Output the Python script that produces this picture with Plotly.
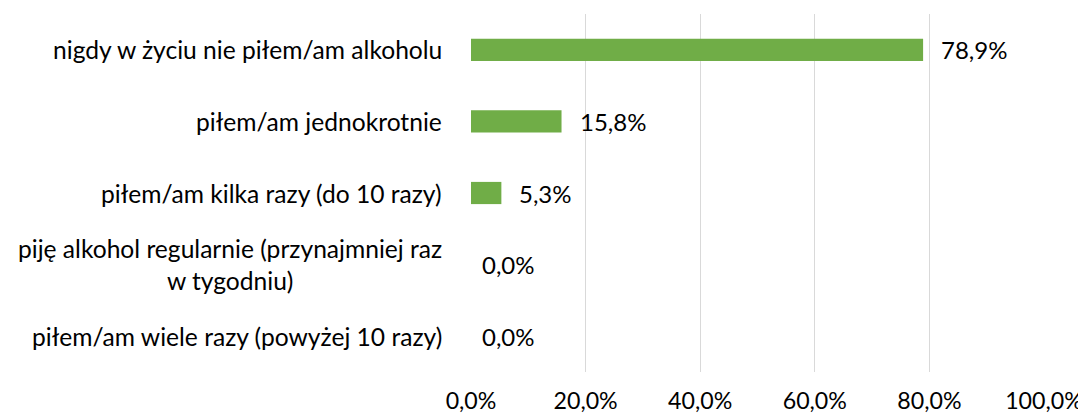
import plotly.graph_objects as go

categories = [
    "nigdy w życiu nie piłem/am alkoholu",
    "piłem/am jednokrotnie",
    "piłem/am kilka razy (do 10 razy)",
    "piję alkohol regularnie (przynajmniej raz<br>w tygodniu)",
    "piłem/am wiele razy (powyżej 10 razy)",
]
values = [78.9, 15.8, 5.3, 0.0, 0.0]
x_ticks = [0, 20, 40, 60, 80, 100]
x_tick_labels = ["0,0%", "20,0%", "40,0%", "60,0%", "80,0%", "100,0%"]

FONT = "Lato, Carlito, 'Open Sans', sans-serif"
FS = 24
TXT = "#000000"

fig = go.Figure(
    go.Bar(
        x=values,
        y=categories,
        orientation="h",
        marker=dict(color="#70AD47", line=dict(width=0)),
        hoverinfo="x+y",
    )
)

annotations = [
    dict(
        x=0, xref="paper", xanchor="right", xshift=-27,
        y=c, yref="y", yanchor="middle",
        text=c, showarrow=False, align="center",
        font=dict(family=FONT, size=24.6, color=TXT),
    )
    for c in categories
]
annotations += [
    dict(
        x=v, xref="x", xanchor="left", xshift=16 if v > 0 else 9,
        y=c, yref="y", yanchor="middle",
        text=f"{v:.1f}%".replace(".", ","), showarrow=False,
        font=dict(family=FONT, size=FS, color=TXT),
    )
    for c, v in zip(categories, values)
]

# page body has an 8px margin, so the figure is sized to fit the window
fig.update_layout(
    width=1078, height=408,
    margin=dict(l=463, r=42, t=6, b=44, autoexpand=False),
    paper_bgcolor="white", plot_bgcolor="white",
    bargap=0.69,
    showlegend=False,
    font=dict(family=FONT, size=FS, color=TXT),
    annotations=annotations,
)
fig.update_xaxes(
    range=[0, 100],
    tickvals=x_ticks,
    ticktext=x_tick_labels,
    showgrid=True, gridcolor="#D9D9D9", gridwidth=1.3,
    zeroline=False, showline=False,
    ticklabelstandoff=13,
    automargin=False,
    tickfont=dict(family=FONT, size=23.2, color=TXT),
)
fig.update_yaxes(
    autorange="reversed",
    showticklabels=False,
    showgrid=False, zeroline=False, showline=False,
    automargin=False,
)

fig.write_html("out.html")
